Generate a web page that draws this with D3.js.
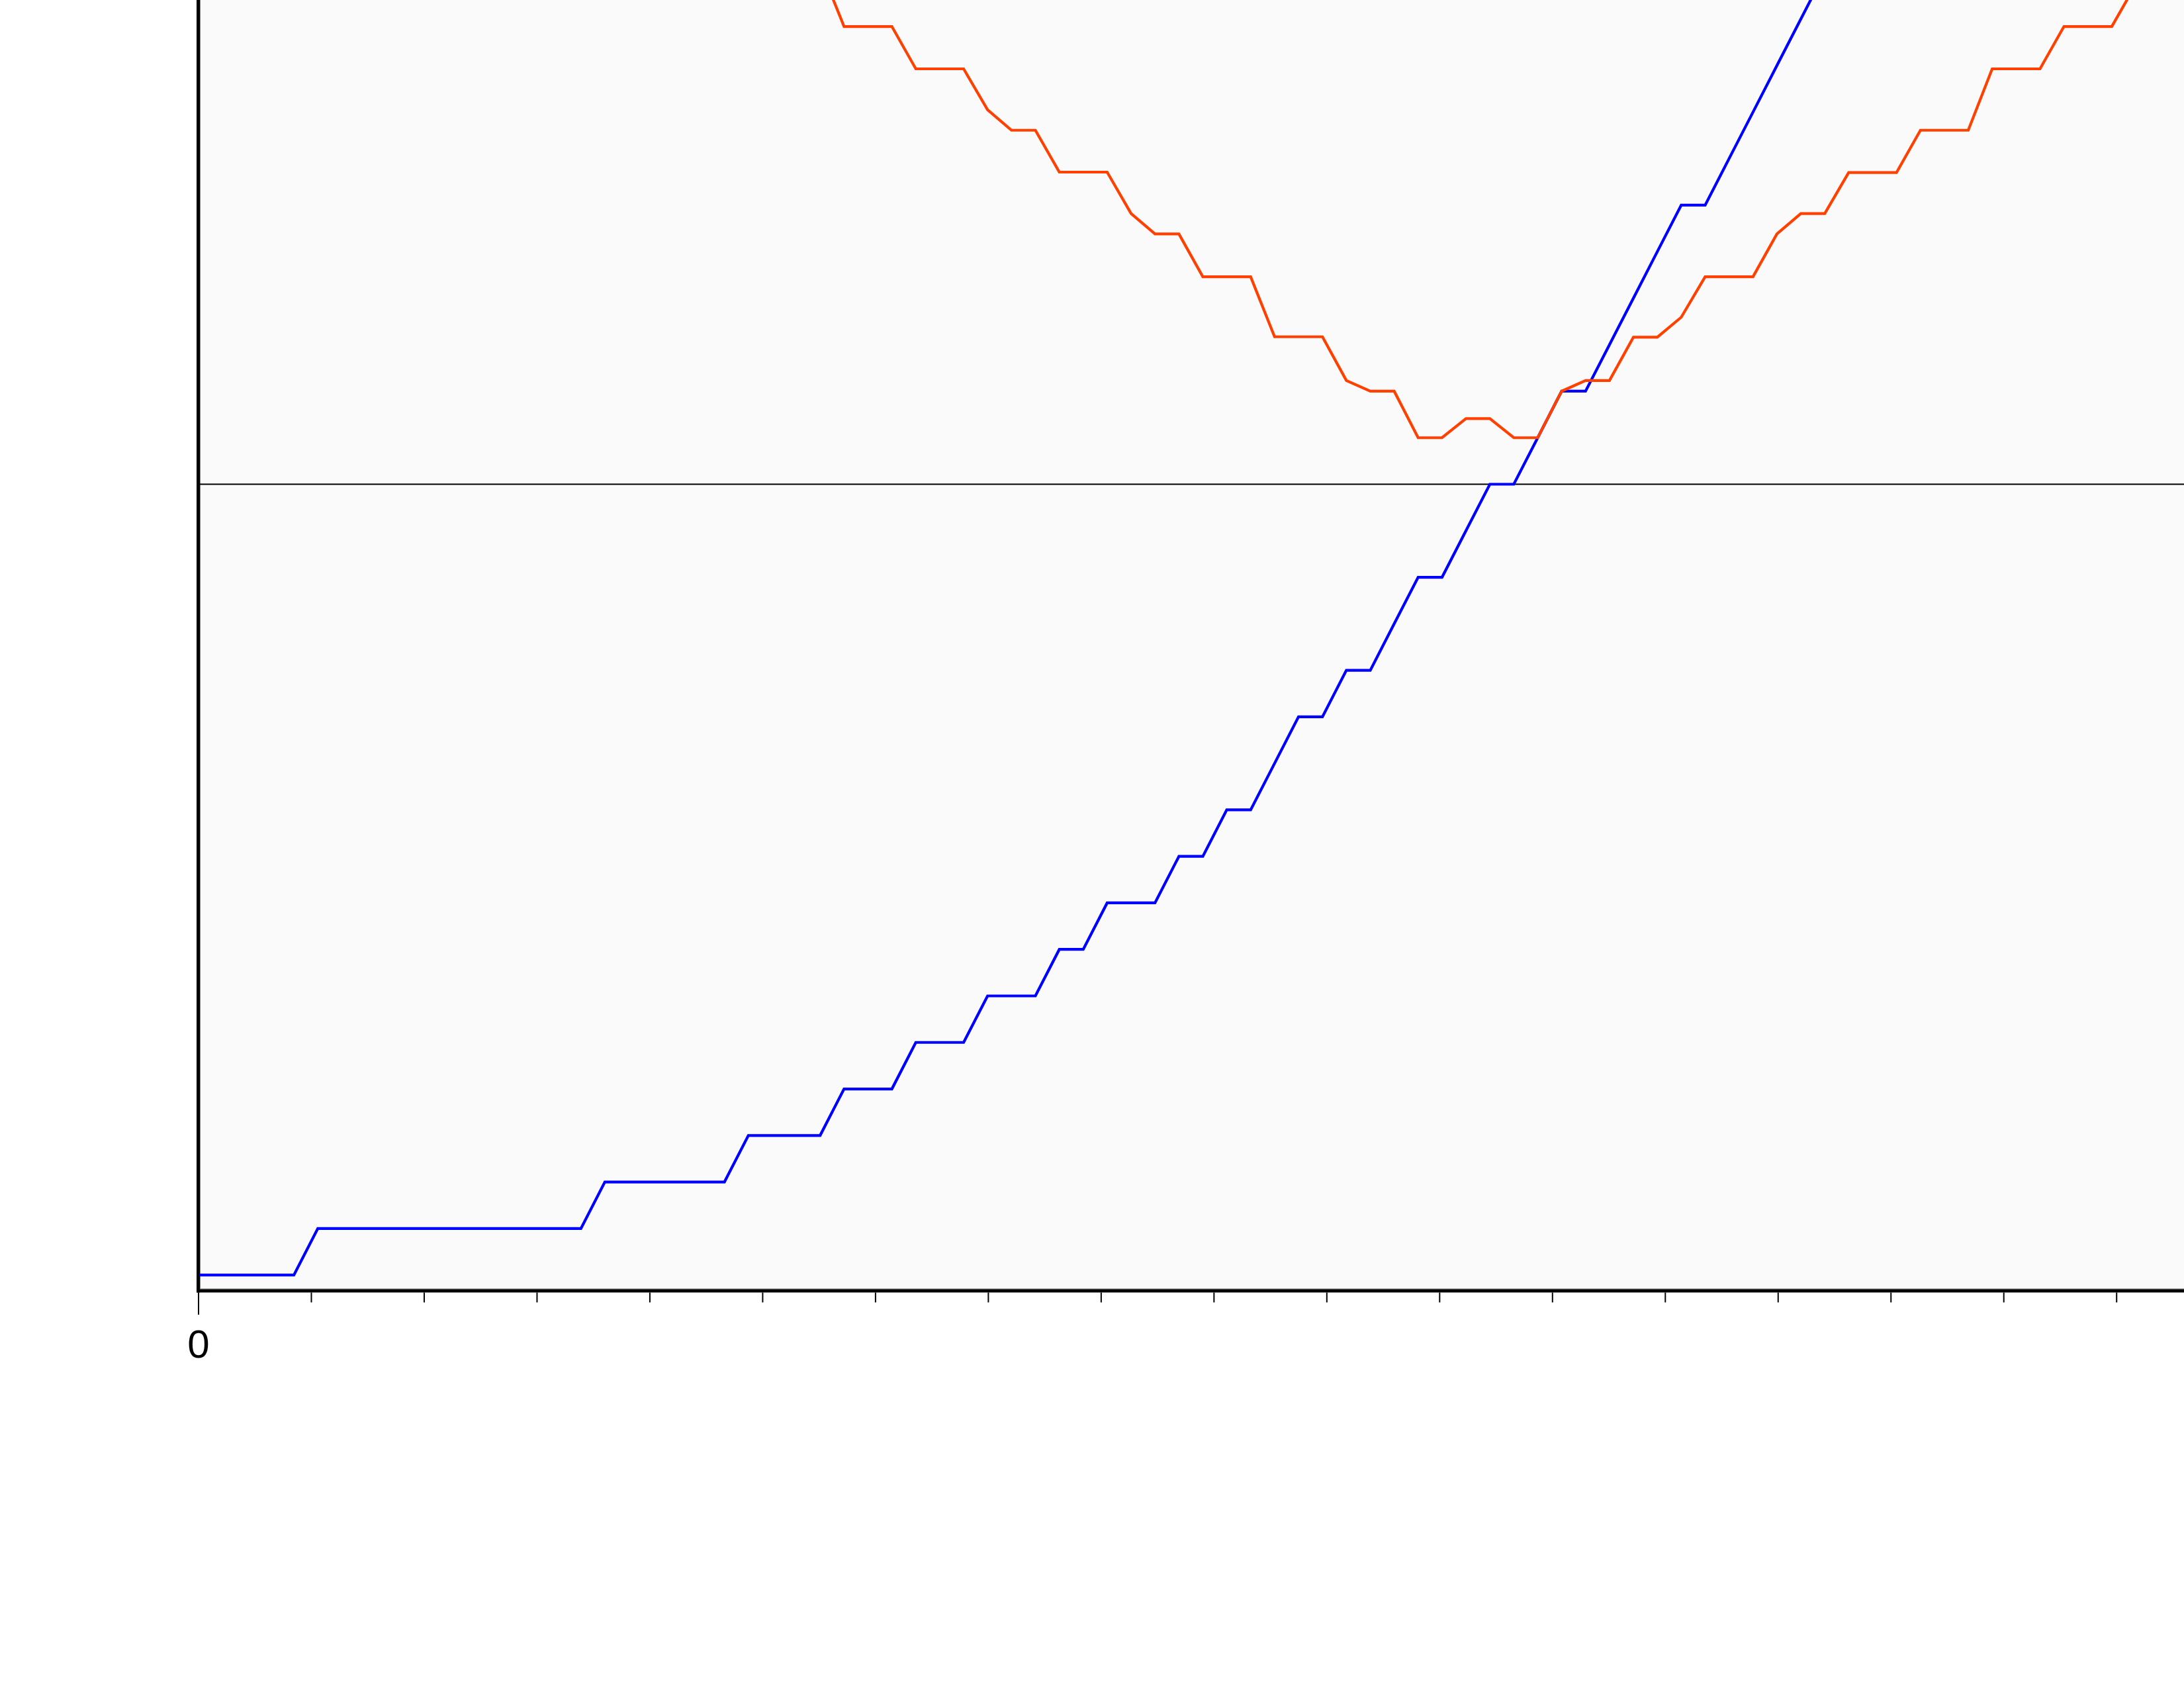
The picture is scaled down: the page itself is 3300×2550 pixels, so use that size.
<!DOCTYPE html>
<html>
<head>
<meta charset="utf-8">
<script src="https://cdn.jsdelivr.net/npm/d3@7"></script>
<style>
  html, body { margin: 0; padding: 0; background: #ffffff; }
  svg { display: block; }
</style>
</head>
<body>
<script>
// ---------- data ----------
// x is measured in tick units (one minor tick = 1); samples are evenly spaced
const sampleStep = 0.212;          // x-units between consecutive samples
const blueStartIndex = 0;          // sample index of first blue value
const blueValues = [
  3,3,3,3,3,
  4,4,4,4,4,4,4,4,4,4,4,4,
  5,5,5,5,5,5,
  6,6,6,6,
  7,7,7,
  8,8,8,
  9,9,9,
  10,10,
  11,11,11,
  12,12,
  13,13,
  14,
  15,15,
  16,16,
  17,
  18,18,
  19,
  20,20,
  21,
  22,22,
  23,
  24,
  25,
  26,26,
  27,28,29,30,31
];
const orangeStartIndex = 26;       // sample index of first orange value
const orangeValues = [
  31.12,
  29.84,29.84,29.84,
  28.93,28.93,28.93,
  28.05,
  27.61,27.61,
  26.71,26.71,26.71,
  25.82,
  25.38,25.38,
  24.46,24.46,24.46,
  23.17,23.17,23.17,
  22.23,
  22.00,22.00,
  21.00,21.00,
  21.41,21.41,
  21.00,21.00,
  22.00,
  22.23,22.23,
  23.16,23.16,
  23.59,
  24.46,24.46,24.46,
  25.38,
  25.82,25.82,
  26.70,26.70,26.70,
  27.61,27.61,27.61,
  28.93,28.93,28.93,
  29.84,29.84,29.84,
  30.74
];
const xTickValues = d3.range(0, 18);   // minor ticks
const xTickLabels = {0: "0"};          // only labelled tick visible
const gridValues = [20];               // horizontal gridline
const xDomain = [0, 17.6];
const yDomain = [2.66, 30.41];

// ---------- layout ----------
const W = 3300, H = 2550;
const plotLeft = 299.5, plotRight = 3300, plotTop = 0, plotBottom = 1950;

const svg = d3.select("body").append("svg")
  .attr("width", W).attr("height", H)
  .attr("viewBox", `0 0 ${W} ${H}`);

svg.append("rect").attr("width", W).attr("height", H).attr("fill", "#ffffff");

const x = d3.scaleLinear().domain(xDomain).range([plotLeft, plotRight]);
const y = d3.scaleLinear().domain(yDomain).range([plotBottom, plotTop]);

// plot background
svg.append("rect")
  .attr("x", 302.5).attr("y", -2)
  .attr("width", W - 302.5 + 5).attr("height", 1947 + 2)
  .attr("fill", "#fafafa")
  .attr("stroke", "#808080").attr("stroke-width", 1);

// clip
svg.append("clipPath").attr("id", "plotclip")
  .append("rect")
  .attr("x", plotLeft).attr("y", 0)
  .attr("width", W - plotLeft).attr("height", 1947.5);

const plot = svg.append("g").attr("clip-path", "url(#plotclip)");

// gridline
plot.selectAll("line.grid").data(gridValues).join("line")
  .attr("class", "grid")
  .attr("x1", plotLeft).attr("x2", plotRight)
  .attr("y1", d => y(d)).attr("y2", d => y(d))
  .attr("stroke", "#000").attr("stroke-width", 2.2);

// series
const blue = blueValues.map((v, i) => ({x: (blueStartIndex + i) * sampleStep, v}));
const orange = orangeValues.map((v, i) => ({x: (orangeStartIndex + i) * sampleStep, v}));

const line = d3.line().x(d => x(d.x)).y(d => y(d.v));

plot.append("path").datum(blue)
  .attr("d", line)
  .attr("fill", "none")
  .attr("stroke", "#0000ff")
  .attr("stroke-width", 4.2)
  .attr("stroke-linejoin", "miter");

plot.append("path").datum(orange)
  .attr("d", line)
  .attr("fill", "none")
  .attr("stroke", "#ff4000")
  .attr("stroke-width", 4.2)
  .attr("stroke-linejoin", "miter");

// x axis ticks via d3 axis
const xAxis = d3.axisBottom(x)
  .tickValues(xTickValues)
  .tickSize(15)
  .tickSizeOuter(0)
  .tickFormat(d => xTickLabels[d] || "");

const gx = svg.append("g")
  .attr("transform", `translate(0, 1952.5)`)
  .call(xAxis);
gx.select(".domain").remove();
gx.selectAll(".tick line")
  .attr("stroke", "#000")
  .attr("stroke-width", 2)
  .attr("y2", d => d === 0 ? 33.5 : 15);
gx.selectAll(".tick text")
  .attr("fill", "#000")
  .attr("font-family", "'Liberation Sans', Arial, sans-serif")
  .attr("font-size", 60)
  .attr("y", 98.2)
  .attr("dy", 0);

// axis lines
svg.append("line")
  .attr("x1", plotLeft).attr("x2", plotLeft)
  .attr("y1", 0).attr("y2", 1952.5)
  .attr("stroke", "#000").attr("stroke-width", 5);
svg.append("line")
  .attr("x1", plotLeft - 2.5).attr("x2", W)
  .attr("y1", 1950).attr("y2", 1950)
  .attr("stroke", "#000").attr("stroke-width", 5);
</script>
</body>
</html>
